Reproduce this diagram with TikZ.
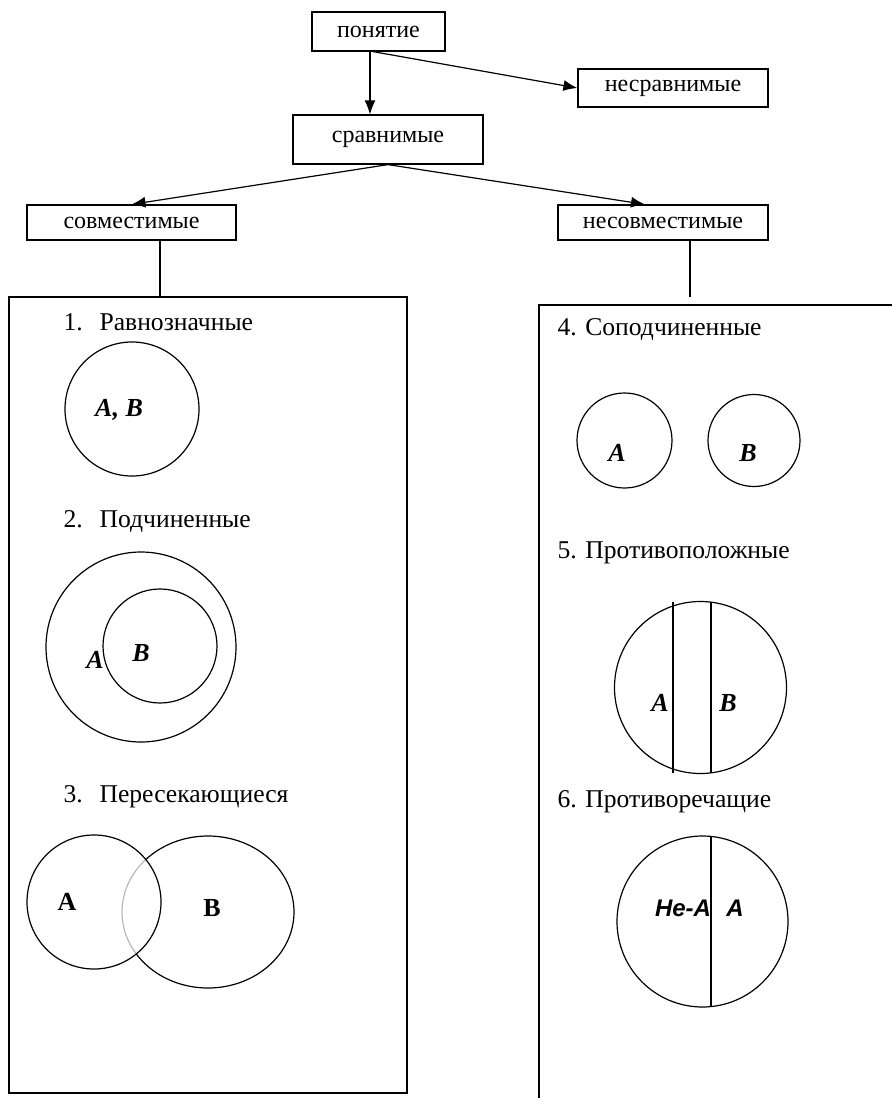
\documentclass[tikz,border=0pt]{standalone}
\usepackage{fontspec}
\setmainfont{Liberation Serif}
\newfontfamily\arialfont{Liberation Sans}
\usepackage{tikz}
\usetikzlibrary{arrows.meta}
\tikzset{> = {Latex[length=7pt,width=5.5pt]}, every picture/.style={line width=0.6pt}}
\tikzset{
  term/.style={draw, minimum height=19pt, inner sep=0pt, font=\fontsize{12}{14}\selectfont},
  heading/.style={anchor=base west, inner sep=0pt, font=\fontsize{12.8}{15}\selectfont},
  lbl/.style={inner sep=0pt, font=\fontsize{13}{15}\selectfont\bfseries\itshape},
}

\begin{document}
\begin{tikzpicture}[x=0.5pt, y=-0.5pt]
\useasboundingbox (0,0) rectangle (892,1098);

\begin{scope}[every node/.style={term}]
\node[minimum width=66.5pt, minimum height=19.5pt] (ponyatie) at (378.5,31.5) {понятие};
\node[minimum width=95pt] (nesravn) at (673,88) {несравнимые};
\node[minimum width=95pt, minimum height=24.5pt] (sravn) at (388,139.5) {сравнимые};
\node[minimum width=104.5pt, minimum height=17.5pt] (sovm) at (131.5,222.5) {совместимые};
\node[minimum width=105pt, minimum height=17.5pt] (nesovm) at (663,222.5) {несовместимые};
\end{scope}

% panels
\node[draw, inner sep=0pt, minimum width=199pt, minimum height=398pt] (leftpanel) at (208,695) {};
\coordinate (rightcorner) at (539,305);
\coordinate (nesovmEnd) at (690,297);
\draw (892,305) -- (rightcorner) -- (539,1098);

\begin{scope}[every edge/.style={draw}]
    \path [->] ([xshift=-4.25pt]ponyatie.south) edge ([xshift=-4.25pt]ponyatie.south |- sravn.north);
    \path [->] ([xshift=-2.75pt]ponyatie.south) edge (nesravn.west);
    \path [->] (sravn.south) edge (sovm.north);
    \path [->] (sravn.south) edge ([xshift=-9pt]nesovm.north);
    \path ([xshift=14.25pt]sovm.south) edge ([xshift=14.25pt]sovm.south |- leftpanel.north);
    \path ([xshift=13.5pt]nesovm.south) edge (nesovmEnd);
\end{scope}

% left panel
\node[heading] (h1) at (63,330) {\makebox[18pt][l]{1.}Равнозначные};
\draw (132,409) circle [radius=67];
\node[lbl] (ab1) at (119,410) {A, B};

\node[heading] (h2) at (63,527) {\makebox[18pt][l]{2.}Подчиненные};
\draw (141,647) circle [radius=95];
\draw (160,646) circle [radius=57];
\node[lbl] (a2) at (95,660) {A};
\node[lbl] (b2) at (141,653) {B};

\node[heading] (h3) at (63,802) {\makebox[18pt][l]{3.}Пересекающиеся};
\draw (208,912) ellipse [x radius=86, y radius=76];
\begin{scope}
\clip (94,902) circle [radius=67];
\draw[white, line width=1.4pt] (208,912) ellipse [x radius=86, y radius=76];
\draw[gray!55] (208,912) ellipse [x radius=86, y radius=76];
\end{scope}
\draw (94,902) circle [radius=67];
\node[lbl, font=\fontsize{13}{15}\selectfont\bfseries] (a3) at (67,902) {A};
\node[lbl, font=\fontsize{13}{15}\selectfont\bfseries] (b3) at (212,908) {B};

% right panel
\node[heading] (h4) at (557,335) {4. Соподчиненные};
\draw (624.5,440.5) circle [radius=47.5];
\draw (754,440.5) circle [radius=46];
\node[lbl] (a4) at (617,453) {A};
\node[lbl] (b4) at (748,453) {B};

\node[heading] (h5) at (557,558) {5. Противоположные};
\draw (700.5,687.5) circle [radius=86];
\draw (673,602) -- (673,773);
\draw (711,602) -- (711,773);
\node[lbl] (a5) at (660,703) {A};
\node[lbl] (b5) at (728,703) {B};

\node[heading] (h6) at (557,807) {6. Противоречащие};
\draw (702.5,921.5) circle [radius=85.5];
\draw (711,836) -- (711,1007);
\node[lbl, font=\fontsize{12}{14}\selectfont\arialfont\bfseries\itshape] (nea) at (683,908) {Не-А};
\node[lbl, font=\fontsize{12}{14}\selectfont\arialfont\bfseries\itshape] (a6) at (735,908) {А};
\end{tikzpicture}
\end{document}
